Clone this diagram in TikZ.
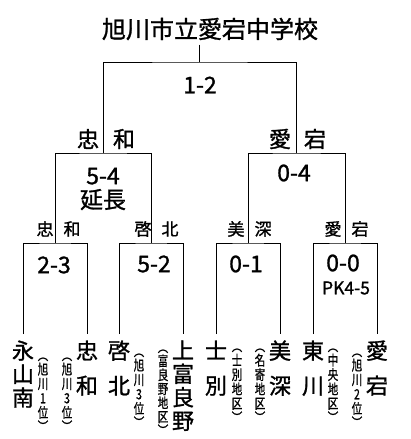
\documentclass[tikz,border=0pt]{standalone}
\usepackage{fontspec}
\setmainfont{Noto Sans CJK JP}[FakeBold=1.2]
\newfontfamily\notefont{Noto Sans CJK JP}[FakeStretch=0.75, FakeBold=0.8]

\begin{document}
\begin{tikzpicture}[x=1pt, y=-1pt, line width=1pt,
every node/.style={align=center, inner sep=0pt},
titlebox/.style={font=\fontsize{24}{28}\selectfont, inner ysep=4pt},
score/.style={font=\fontsize{23}{24}\selectfont},
pkscore/.style={font=\fontsize{17.5}{20}\selectfont},
side/.style={font=\fontsize{22}{24}\selectfont},
subside/.style={font=\fontsize{17}{20}\selectfont},
team/.style={anchor=north, inner ysep=6pt, font=\fontsize{22}{23.5}\selectfont},
teamwide/.style={anchor=north, inner ysep=6pt, font=\fontsize{22}{35}\selectfont},
region/.style={anchor=north, font=\notefont\fontsize{14}{14.4}\selectfont}
]

\useasboundingbox (0,0) rectangle (410,439);

% Title
\node[titlebox] (title) at (210,29) {旭川市立愛宕中学校};

% Junctions
\coordinate (f) at (199.75,62);
\coordinate (s1) at (103,153);
\coordinate (s2) at (296.5,153);
\coordinate (q1) at (55,243);
\coordinate (q2) at (151,243);
\coordinate (q3) at (248,243);
\coordinate (q4) at (345,243);

% Teams
\node[team] (n1) at (23,334) {永\\山\\南};
\node[teamwide] (n2) at (87,334) {忠\\和};
\node[teamwide] (n3) at (119,334) {啓\\北};
\node[team] (n4) at (183,334) {上\\富\\良\\野};
\node[teamwide] (n5) at (216,334) {士\\別};
\node[teamwide] (n6) at (280,334) {美\\深};
\node[teamwide] (n7) at (313,334) {東\\川};
\node[teamwide] (n8) at (377,334) {愛\\宕};

% Regions
\node[region] (r1) at (43,357) {︵\\旭\\川\\1\\位\\︶};
\node[region] (r2) at (67,357) {︵\\旭\\川\\3\\位\\︶};
\node[region] (r3) at (139,353) {︵\\旭\\川\\3\\位\\︶};
\node[region, font=\notefont\fontsize{14}{14}\selectfont] (r4) at (163,349) {︵\\富\\良\\野\\地\\区\\︶};
\node[region] (r5) at (237,348) {︵\\士\\別\\地\\区\\︶};
\node[region] (r6) at (260,348) {︵\\名\\寄\\地\\区\\︶};
\node[region] (r7) at (333,348) {︵\\中\\央\\地\\区\\︶};
\node[region] (r8) at (357,353) {︵\\旭\\川\\2\\位\\︶};

% Scores
\node[score] (m1) at (200,85) {1-2};
\node[score] (m2) at (103,189) {5-4\\延長};
\node[score] (m3) at (294,173) {0-4};
\node[score] (m4) at (54,265) {2-3};
\node[score] (m5) at (154,264) {5-2};
\node[score] (m6) at (246,264) {0-1};
\node[score] (m7) at (343,263) {0-0};
\node[pkscore] (pk) at (346,288) {PK4-5};

% Winners
\node[side] (a1) at (88,139) {忠};
\node[side] (a2) at (124,139) {和};
\node[side] (a3) at (280,139) {愛};
\node[side] (a4) at (315,139) {宕};
\node[subside] (b1) at (45,229) {忠};
\node[subside] (b2) at (72,229) {和};
\node[subside] (b3) at (143,229) {啓};
\node[subside] (b4) at (170,229) {北};
\node[subside] (b5) at (236,229) {美};
\node[subside] (b6) at (263,229) {深};
\node[subside] (b7) at (333,229) {愛};
\node[subside] (b8) at (360,229) {宕};

% Bracket
\draw (title.south -| f) -- (f);
\draw (s1) |- (f) -| (s2);
\draw (q1) |- (s1) -| (q2);
\draw (q3) |- (s2) -| (q4);
\draw (n1) |- (q1) -| (n2);
\draw (n3) |- (q2) -| (n4);
\draw (n5) |- (q3) -| (n6);
\draw (n7) |- (q4) -| (n8);

\end{tikzpicture}
\end{document}
